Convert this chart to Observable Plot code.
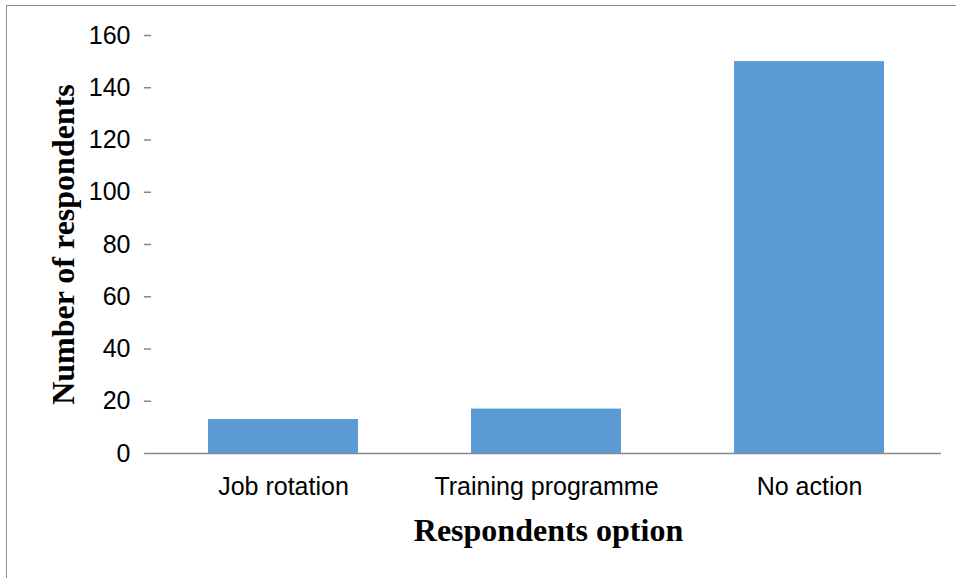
<!DOCTYPE html>
<html>
<head>
<meta charset="utf-8">
<script src="https://cdn.jsdelivr.net/npm/d3@7"></script>
<script src="https://cdn.jsdelivr.net/npm/@observablehq/plot@0.6"></script>
<style>
  html, body { margin: 0; padding: 0; background: #fff; }
  #wrap { position: relative; width: 956px; height: 578px; overflow: hidden; }
  #frame { position: absolute; left: 6px; top: 5px; right: -10px; bottom: -10px;
           border-top: 1.5px solid #8c8c8c; border-left: 1.5px solid #8c8c8c; }
  #chart { position: absolute; left: 0; top: 0; }
</style>
</head>
<body>
<div id="wrap"><div id="frame"></div><div id="chart"></div></div>
<script>
const categories = ["Job rotation", "Training programme", "No action"];
const respondents = [13, 17, 150];
const yTicks = [0, 20, 40, 60, 80, 100, 120, 140, 160];
const yTitle = "Number of respondents";
const xTitle = "Respondents option";

const data = categories.map((c, i) => ({category: c, value: respondents[i]}));
const axisColor = "#898989";

const chart = Plot.plot({
  width: 956,
  height: 578,
  marginLeft: 151,
  marginRight: 15,
  marginTop: 35,
  marginBottom: 125,
  style: {fontFamily: "'Liberation Sans', Arial, sans-serif", fontSize: "25px", color: "#000", background: "transparent"},
  x: {domain: categories, paddingInner: 0.43, paddingOuter: 0.215, label: null},
  y: {domain: [0, 160], ticks: yTicks, label: null},
  marks: [
    Plot.barY(data, {x: "category", y: "value", fill: "#5B9BD5"}),
    Plot.axisY({ticks: yTicks, tickSize: 7, tickPadding: 14, stroke: axisColor, strokeWidth: 1.5, strokeOpacity: 1, label: null, fill: "#000"}),
    Plot.axisX({tickSize: 0, tickPadding: 24, label: null, fill: "#000"}),
    Plot.ruleY([0], {stroke: axisColor, strokeWidth: 1.5}),
    Plot.ruleX([0], {frameAnchor: "left", stroke: axisColor, strokeWidth: 1.5, y1: 0, y2: 160}),
    Plot.text([yTitle], {frameAnchor: "left", dx: -88, rotate: -90, textAnchor: "middle", lineAnchor: "middle", fontFamily: "'Liberation Serif', 'Times New Roman', serif", fontWeight: "bold", fontSize: 32, fill: "#000"}),
    Plot.text([xTitle], {frameAnchor: "bottom", dy: 77, dx: 2, textAnchor: "middle", lineAnchor: "middle", fontFamily: "'Liberation Serif', 'Times New Roman', serif", fontWeight: "bold", fontSize: 32, fill: "#000"})
  ]
});
document.getElementById("chart").appendChild(chart);
</script>
</body>
</html>
